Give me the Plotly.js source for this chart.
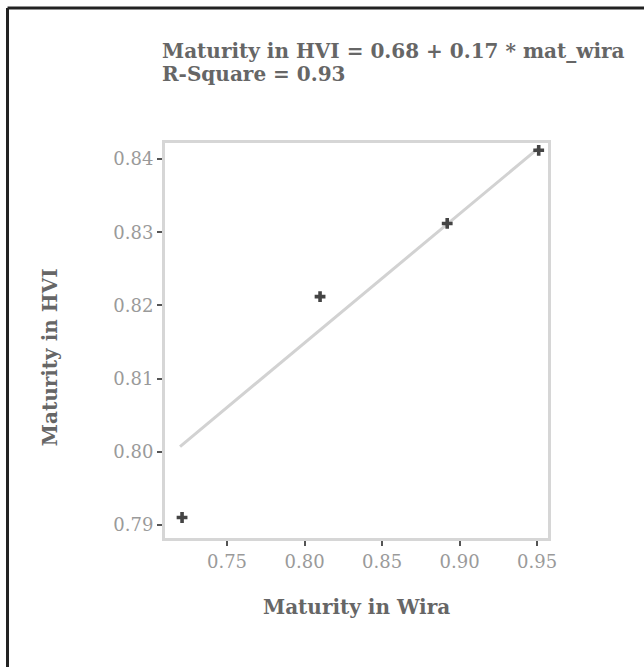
<!DOCTYPE html>
<html>
<head>
<meta charset="utf-8">
<script src="https://cdn.plot.ly/plotly-3.0.1.min.js"></script>
<style>html,body{margin:0;padding:0;background:#fff;overflow:hidden;}</style>
</head>
<body>
<div id="chart" style="width:644px;height:667px;"></div>
<script>
// Observed data points
const wiraMaturity = [0.721, 0.810, 0.892, 0.951];
const hviMaturity  = [0.791, 0.8212, 0.8312, 0.8412];
// Fitted line as drawn in the picture (read at both ends)
const fitX = [0.7197, 0.9503];
const fitY = [0.8007, 0.8414];
// Tick values / labels
const xTicks = [0.75, 0.80, 0.85, 0.90, 0.95];
const xTickLabels = ["0.75", "0.80", "0.85", "0.90", "0.95"];
const yTicks = [0.79, 0.80, 0.81, 0.82, 0.83, 0.84];
const yTickLabels = ["0.79", "0.80", "0.81", "0.82", "0.83", "0.84"];
const titleLines = ["Maturity in HVI = 0.68 + 0.17 * mat_wira", "R-Square = 0.93"];
const xTitle = "Maturity in Wira";
const yTitle = "Maturity in HVI";

const serif = "DejaVu Serif";
const traces = [
  {x: fitX, y: fitY, mode: "lines", line: {color: "#d2d2d2", width: 3}, hoverinfo: "skip"},
  {x: wiraMaturity, y: hviMaturity, mode: "markers",
   marker: {symbol: "cross", size: 9, color: "#444"}}
];
const axisCommon = {
  showgrid: false, zeroline: false, showline: true, mirror: true,
  linecolor: "#d6d6d6", linewidth: 3,
  ticks: "outside", ticklen: 5, tickwidth: 2, tickcolor: "#555",
  tickfont: {family: serif, size: 18, color: "#9a9a9a"}
};
const labFont = {family: serif, size: 20, color: "#666", weight: "bold"};
const layout = {
  width: 644, height: 667,
  margin: {l: 165, r: 96, t: 143, b: 129},
  paper_bgcolor: "#fff", plot_bgcolor: "#fff",
  showlegend: false,
  xaxis: Object.assign({}, axisCommon, {
    range: [0.710, 0.957], tickvals: xTicks, ticktext: xTickLabels
  }),
  yaxis: Object.assign({}, axisCommon, {
    range: [0.7882, 0.8422], tickvals: yTicks, ticktext: yTickLabels
  }),
  annotations: [
    {text: titleLines[0], xref: "paper", yref: "paper", x: -0.013, y: 1.2329, xanchor: "left", yanchor: "middle",
     showarrow: false, font: labFont},
    {text: titleLines[1], xref: "paper", yref: "paper", x: -0.013, y: 1.1747, xanchor: "left", yanchor: "middle",
     showarrow: false, font: labFont},
    {text: xTitle, xref: "paper", yref: "paper", x: 0.5, y: -0.175, xanchor: "center", yanchor: "middle",
     showarrow: false, font: labFont},
    {text: yTitle, xref: "paper", yref: "paper", x: -0.300, y: 0.458, xanchor: "center", yanchor: "middle",
     textangle: -90, showarrow: false, font: labFont}
  ],
  shapes: [
    {type: "line", xref: "paper", yref: "paper", x0: -0.4112, x1: -0.4112, y0: -0.4, y1: 1.3418,
     line: {color: "#222", width: 3}},
    {type: "line", xref: "paper", yref: "paper", x0: -0.4112, x1: 1.26, y0: 1.3418, y1: 1.3418,
     line: {color: "#222", width: 3}}
  ]
};
Plotly.newPlot("chart", traces, layout, {displayModeBar: false, staticPlot: true});
</script>
</body>
</html>
